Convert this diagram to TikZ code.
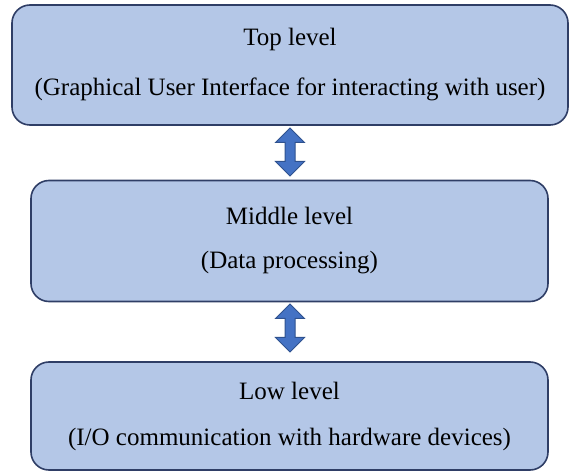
\documentclass[tikz,border=0pt]{standalone}
\usepackage{fontspec}
\setmainfont{Liberation Serif}
\usetikzlibrary{shapes.arrows}
\definecolor{boxfill}{HTML}{B4C7E7}
\definecolor{boxline}{HTML}{2F3E66}
\definecolor{arrowfill}{HTML}{4472C4}
\definecolor{arrowline}{HTML}{2F528F}
\tikzset{
    level/.style={draw=boxline, line width=1.6pt, fill=boxfill, rounded corners=18pt,
      inner sep=0pt, align=center, font=\fontsize{25}{30}\selectfont},
    updown/.style={double arrow, draw=arrowline, line width=1pt, fill=arrowfill,
      rotate=90, inner xsep=0pt, inner ysep=4.5pt, minimum height=48pt, minimum width=28pt,
      double arrow head extend=9.5pt},
  }
\begin{document}
\begin{tikzpicture}[x=1pt,y=-1pt]
				  %cadre
				  \useasboundingbox (0,0) rectangle (571,473);
				  \coordinate(T) at (290,65);
				  \coordinate(M) at (289.5,241);
				  \coordinate(L) at (289.5,416);
				  
				  %boites
				  \node[level, minimum width=556pt, minimum height=120pt] (top) at (T)
				    {Top level\\[20pt](Graphical User Interface for interacting with user)};
				  \node[level, minimum width=517pt, minimum height=121pt] (mid) at (M)
				    {Middle level\\[14pt](Data processing)};
				  \node[level, minimum width=517pt, minimum height=108pt] (low) at (L)
				    {Low level\\[16pt](I/O communication with hardware devices)};
				  
				  %fleches
				  \node[updown] (tm) at (290,152) {};
				  \node[updown] (ml) at (290,328) {};
				  \end{tikzpicture}
\end{document}
